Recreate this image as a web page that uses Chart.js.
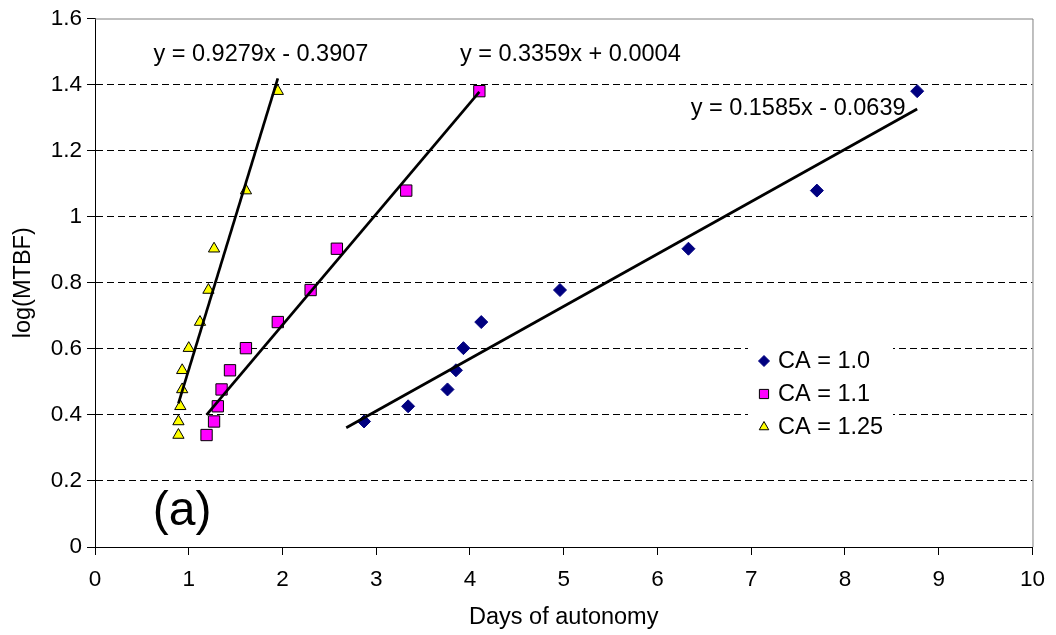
<!DOCTYPE html>
<html>
<head>
<meta charset="utf-8">
<script src="https://cdn.jsdelivr.net/npm/chart.js@4/dist/chart.umd.min.js"></script>
<style>
  html, body { margin: 0; padding: 0; background: #fff; }
  #wrap { width: 1056px; height: 635px; }
</style>
</head>
<body>
<div id="wrap"><canvas id="c" width="1056" height="635"></canvas></div>
<script>
// ---- data ----
const seriesLabels = ['CA = 1.0', 'CA = 1.1', 'CA = 1.25'];

const xCA10 = [2.87, 3.34, 3.76, 3.85, 3.93, 4.12, 4.96, 6.33, 7.70, 8.77];
const yCA10 = [0.380, 0.426, 0.477, 0.535, 0.602, 0.681, 0.778, 0.903, 1.079, 1.380];

const xCA11 = [1.19, 1.27, 1.31, 1.35, 1.44, 1.61, 1.95, 2.30, 2.58, 3.32, 4.10];
const yCA11 = [0.339, 0.380, 0.426, 0.477, 0.535, 0.602, 0.681, 0.778, 0.903, 1.079, 1.380];

const xCA125 = [0.89, 0.89, 0.91, 0.93, 0.93, 1.00, 1.12, 1.21, 1.27, 1.61, 1.95];
const yCA125 = [0.339, 0.380, 0.426, 0.477, 0.535, 0.602, 0.681, 0.778, 0.903, 1.079, 1.380];

// linear trend lines: slope, intercept, x-range
const trendSlopes = [0.1585, 0.3359, 0.9279];
const trendIntercepts = [-0.0639, 0.0004, -0.3907];
const trendXStart = [2.68, 1.19, 0.89];
const trendXEnd = [8.77, 4.10, 1.95];

const xTickLabels = ['0','1','2','3','4','5','6','7','8','9','10'];
const yTickLabels = ['0','0.2','0.4','0.6','0.8','1','1.2','1.4','1.6'];

const panelLabel = '(a)';

// ---- helpers ----
const pts = (xs, ys) => xs.map((x, i) => ({ x: x, y: ys[i] }));
const trend = i => [trendXStart[i], trendXEnd[i]].map(x => ({ x: x, y: trendSlopes[i] * x + trendIntercepts[i] }));
const eqText = i => {
  const b = trendIntercepts[i];
  return 'y = ' + trendSlopes[i].toFixed(4) + 'x ' + (b < 0 ? '- ' : '+ ') + Math.abs(b).toFixed(4);
};

const FONT = '"Liberation Sans", Arial, sans-serif';

const markerStyles = [
  { pointStyle: 'rectRot', radius: 6.5, bg: '#000080', border: '#000080', bw: 1 },
  { pointStyle: 'rect', radius: 8, bg: '#FF00FF', border: '#000000', bw: 1 },
  { pointStyle: 'triangle', radius: 6.5, bg: '#FFFF00', border: '#000000', bw: 1 }
];

const scatterData = [pts(xCA10, yCA10), pts(xCA11, yCA11), pts(xCA125, yCA125)];

const datasets = [];
scatterData.forEach((d, i) => {
  const m = markerStyles[i];
  datasets.push({
    type: 'scatter', label: seriesLabels[i], data: d,
    pointStyle: m.pointStyle, pointRadius: m.radius, pointHoverRadius: m.radius,
    backgroundColor: m.bg, borderColor: m.border, borderWidth: m.bw, order: 1
  });
});
[0, 1, 2].forEach(i => {
  datasets.push({
    type: 'line', label: 'trend' + i, data: trend(i),
    borderColor: '#000', borderWidth: 2.7, pointRadius: 0, fill: false, order: 0
  });
});

// annotation placement (data coordinates) for equation texts and panel label
const eqPos = [ { x: 7.50, y: 1.326 }, { x: 5.07, y: 1.49 }, { x: 1.77, y: 1.49 } ];
const panelPos = { x: 0.93, y: 0.106 };

const decorPlugin = {
  id: 'decor',
  beforeDatasetsDraw(chart) {
    const { ctx, chartArea: a } = chart;
    ctx.save();
    ctx.strokeStyle = '#808080';
    ctx.lineWidth = 1;
    ctx.beginPath();
    ctx.moveTo(a.left, a.top + 0.5);
    ctx.lineTo(a.right + 0.5, a.top + 0.5);
    ctx.lineTo(a.right + 0.5, a.bottom);
    ctx.stroke();
    ctx.restore();
  },
  afterDatasetsDraw(chart) {
    const { ctx } = chart;
    const xs = chart.scales.x, ys = chart.scales.y;
    ctx.save();
    ctx.fillStyle = '#000';
    ctx.textAlign = 'center';
    ctx.textBaseline = 'middle';
    ctx.font = '23.5px ' + FONT;
    eqPos.forEach((p, i) => {
      ctx.fillText(eqText(i), xs.getPixelForValue(p.x), ys.getPixelForValue(p.y));
    });
    ctx.font = '48px ' + FONT;
    ctx.fillText(panelLabel, xs.getPixelForValue(panelPos.x), ys.getPixelForValue(panelPos.y));

    // legend
    const lx = 748, ly = 344, lw = 145, lh = 98;
    ctx.fillStyle = '#fff';
    ctx.fillRect(lx, ly, lw, lh);
    ctx.font = '23.5px ' + FONT;
    ctx.textAlign = 'left';
    const rowY = [361, 394, 427];
    seriesLabels.forEach((lab, i) => {
      const m = markerStyles[i];
      ctx.fillStyle = m.bg;
      ctx.strokeStyle = m.border;
      ctx.lineWidth = m.bw;
      const r = i === 1 ? 6.5 : 5.5;
      Chart.helpers.drawPoint(ctx, { pointStyle: m.pointStyle, radius: r, borderWidth: m.bw, rotation: 0 }, 764, rowY[i]);
      ctx.fillStyle = '#000';
      ctx.fillText(lab, 778, rowY[i] + 1);
    });
    ctx.restore();
  }
};

new Chart(document.getElementById('c'), {
  data: { datasets },
  options: {
    responsive: false,
    animation: false,
    events: [],
    layout: { padding: { top: 18, right: 17, left: 0, bottom: 0 } },
    plugins: { legend: { display: false }, tooltip: { enabled: false } },
    scales: {
      x: {
        type: 'linear', min: 0, max: 10,
        afterFit: s => { s.height = 88; },
        afterBuildTicks: s => { s.ticks = xTickLabels.map((t, i) => ({ value: i })); },
        ticks: {
          color: '#000', padding: 11,
          font: { family: FONT, size: 22.5 },
          callback: (v, i) => xTickLabels[i]
        },
        grid: { drawOnChartArea: false, drawTicks: true, tickLength: 8, tickColor: '#000', tickWidth: 1 },
        border: { color: '#000', width: 1 },
        title: { display: true, text: 'Days of autonomy', color: '#000', font: { family: FONT, size: 23.5 }, padding: { top: 0, bottom: 3 } }
      },
      y: {
        type: 'linear', min: 0, max: 1.6,
        afterFit: s => { s.width = 95; },
        afterBuildTicks: s => { s.ticks = yTickLabels.map((t, i) => ({ value: i * 0.2 })); },
        ticks: {
          color: '#000', padding: 5,
          font: { family: FONT, size: 22.5 },
          callback: (v, i) => yTickLabels[i]
        },
        grid: {
          drawOnChartArea: true, drawTicks: true, tickLength: 8,
          color: c => (c.index === 0 || c.index === yTickLabels.length - 1) ? 'rgba(0,0,0,0)' : '#000',
          tickColor: '#000', tickWidth: 1, lineWidth: 1, tickBorderDash: []
        },
        border: { color: '#000', width: 1, dash: [7, 4] },
        title: { display: true, text: 'log(MTBF)', color: '#000', font: { family: FONT, size: 23.5 }, padding: { top: 9, bottom: 0 } }
      }
    }
  },
  plugins: [decorPlugin]
});
</script>
</body>
</html>
